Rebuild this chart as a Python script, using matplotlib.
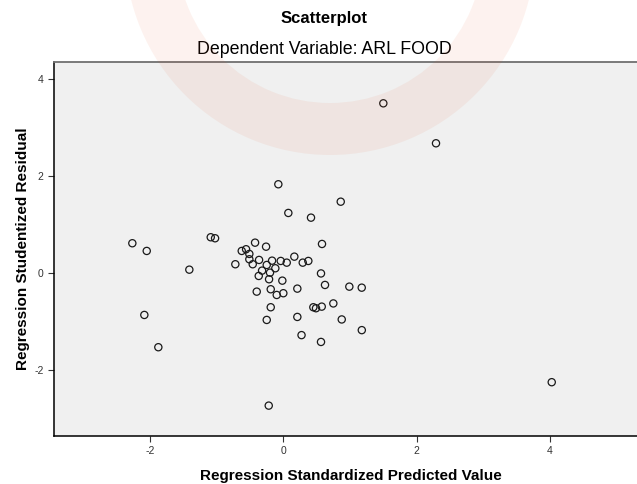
import matplotlib
matplotlib.use("Agg")
import matplotlib.pyplot as plt
from matplotlib.patches import Wedge

# regression standardized predicted value (x) and studentized residual (y)
pred_values = [
    -2.265, -2.049, -1.41, -2.085, -1.875, -0.219, -0.075, 0.075, 0.415, 0.861,
    1.50, 2.29, 4.026,
    -1.089, -1.024, -0.424, -0.259, -0.624, -0.559, -0.51, -0.51, -0.459, -0.72,
    -0.364, -0.249, -0.169, -0.12, -0.319, -0.2, -0.369, -0.214, -0.039, 0.051,
    0.165, 0.291, 0.375, -0.015, -0.399, -0.189, -0.099, 0.0, 0.21, -0.189,
    -0.249, 0.21, 0.45, 0.49,
    0.58, 0.565, 0.625, 0.99, 1.176, 0.576, 0.75, 0.876, 1.177, 0.565, 0.273,
]
resid_values = [
    0.614, 0.455, 0.068, -0.868, -1.535, -2.742, 1.833, 1.240, 1.143, 1.473,
    3.506, 2.680, -2.258,
    0.738, 0.717, 0.626, 0.543, 0.455, 0.490, 0.393, 0.283, 0.180, 0.180,
    0.269, 0.165, 0.254, 0.097, 0.048, 0.006, -0.062, -0.130, 0.248, 0.213,
    0.337, 0.213, 0.248, -0.159, -0.386, -0.337, -0.455, -0.419, -0.324, -0.709,
    -0.971, -0.909, -0.709, -0.729,
    0.599, -0.010, -0.248, -0.283, -0.304, -0.696, -0.630, -0.961, -1.182, -1.426, -1.285,
]

x_ticks = [-2, 0, 2, 4]
y_ticks = [-2, 0, 2, 4]

title = "Scatterplot"
subtitle = "Dependent Variable: ARL FOOD"
x_label = "Regression Standardized Predicted Value"
y_label = "Regression Studentized Residual"


def add_watermark(fig):
    # faint orange logo ring over the top of the chart (pixel coords, y up)
    H = 484
    ring = Wedge((330, H + 50), 205, 0, 360, width=52,
                 transform=None, color="#E8501E", alpha=0.07, zorder=5, lw=0)
    fig.add_artist(ring)


def main():
    plt.rcParams["font.family"] = ["Liberation Sans", "DejaVu Sans"]
    plt.rcParams["axes.unicode_minus"] = False

    fig = plt.figure(figsize=(6.37, 4.84), dpi=100)
    fig.patch.set_facecolor("white")

    ax = fig.add_axes([54 / 637, 48 / 484, 594 / 637, 374 / 484])
    ax.set_facecolor("#F0F0F0")

    ax.scatter(pred_values, resid_values, s=27, facecolors="none",
               edgecolors="#1a1a1a", linewidths=0.9, zorder=3)

    ax.set_xlim(-3.44, 5.47)
    ax.set_ylim(-3.37, 4.36)
    ax.set_xticks(x_ticks)
    ax.set_yticks(y_ticks)
    ax.tick_params(axis="both", direction="out", length=4, width=0.8,
                   labelsize=7.5, labelcolor="#333333", color="#333333")

    ax.spines["right"].set_visible(False)
    ax.spines["top"].set_color("#707070")
    ax.spines["top"].set_linewidth(1.3)
    ax.spines["left"].set_linewidth(1.1)
    ax.spines["bottom"].set_linewidth(1.1)

    ax.set_xlabel(x_label, fontsize=11, fontweight="bold", labelpad=9)
    ax.set_ylabel(y_label, fontsize=11, fontweight="bold", labelpad=3)

    fig.text(324 / 637, 1 - 19 / 484, title, ha="center", va="center",
             fontsize=12, fontweight="bold")
    fig.text(324 / 637, 1 - 49 / 484, subtitle, ha="center", va="center",
             fontsize=12.75)

    add_watermark(fig)

    fig.savefig("out.png", dpi=100)


if __name__ == "__main__":
    main()
